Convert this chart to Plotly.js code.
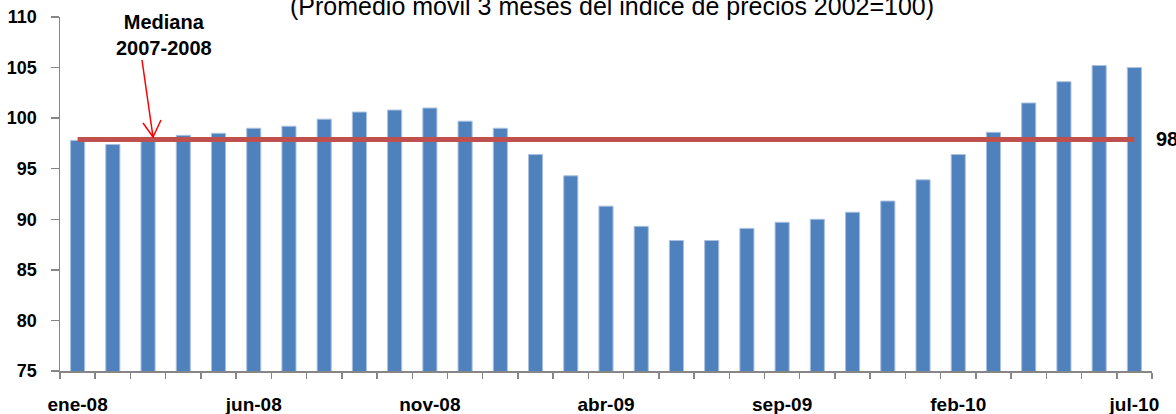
<!DOCTYPE html>
<html>
<head>
<meta charset="utf-8">
<script src="https://cdn.plot.ly/plotly-3.0.1.min.js"></script>
<style>
  html, body { margin: 0; padding: 0; background: #fff; }
  #chart { width: 1176px; height: 414px; }
</style>
</head>
<body>
<div id="chart"></div>
<script>
// categories (monthly, ene-08 .. jul-10)
const months = [
  'ene-08', 'feb-08', 'mar-08', 'abr-08', 'may-08', 'jun-08', 'jul-08', 'ago-08', 'sep-08', 'oct-08', 'nov-08', 'dic-08',
  'ene-09', 'feb-09', 'mar-09', 'abr-09', 'may-09', 'jun-09', 'jul-09', 'ago-09', 'sep-09', 'oct-09', 'nov-09', 'dic-09',
  'ene-10', 'feb-10', 'mar-10', 'abr-10', 'may-10', 'jun-10', 'jul-10'
];

// price index, 3-month moving average (2002=100)
const indexValues = [
  97.8, 97.4, 98.1, 98.3, 98.5, 99.0, 99.2, 99.9, 100.6, 100.8, 101.0, 99.7,
  99.0, 96.4, 94.3, 91.3, 89.3, 87.9, 87.9, 89.1, 89.7, 90.0, 90.7, 91.8,
  93.9, 96.4, 98.6, 101.5, 103.6, 105.2, 105.0
];

// median 2007-2008 reference line
const medianX = ['ene-08', 'jul-10'];
const medianY = [97.9, 97.9];
const medianLabel = '98';

// only every fifth month is labelled
const tickText = months.map((m, i) => (i % 5 === 0 ? m : ''));

const FONT = 'Liberation Sans, Arial, sans-serif';
const AXIS_GREY = '#868686';

// plot area in pixels: x 60..1152, y 17..371
const plotL = 60, plotR = 24, plotT = 17, plotB = 43;
const plotW = 1176 - plotL - plotR;
const plotH = 414 - plotT - plotB;
const px = (x) => (x - plotL) / plotW;            // pixel x -> paper
const py = (y) => (414 - plotB - y) / plotH;      // pixel y -> paper

const bars = {
  type: 'bar',
  x: months,
  y: indexValues,
  marker: {
    color: '#4F81BD',
    line: { color: '#A9C1E0', width: 1 }
  },
  hoverinfo: 'x+y',
  showlegend: false
};

const median = {
  type: 'scatter',
  mode: 'lines',
  x: medianX,
  y: medianY,
  line: { color: '#C0504D', width: 5 },
  showlegend: false,
  hoverinfo: 'skip'
};

// open "V" arrow pointing at the median line
const arrowTail = [142, 60], arrowTip = [153, 137];
const headL = [143, 123], headR = [161, 120];

const layout = {
  width: 1176,
  height: 414,
  margin: { l: plotL, r: plotR, t: plotT, b: plotB, pad: 0 },
  paper_bgcolor: '#ffffff',
  plot_bgcolor: '#ffffff',
  bargap: 0.6,
  font: { family: FONT, color: '#000000' },
  xaxis: {
    type: 'category',
    tickmode: 'array',
    tickvals: months,
    ticktext: tickText,
    tickangle: 0,
    tickson: 'boundaries',
    ticks: 'outside',
    ticklen: 6,
    tickwidth: 1.5,
    tickcolor: AXIS_GREY,
    showline: true,
    linecolor: AXIS_GREY,
    linewidth: 1.5,
    showgrid: false,
    zeroline: false,
    ticklabelstandoff: 16,
    tickfont: { family: FONT, size: 19, weight: 'bold', color: '#000' },
    range: [-0.5, months.length - 0.5]
  },
  yaxis: {
    range: [75, 110],
    dtick: 5,
    tick0: 75,
    ticks: 'outside',
    ticklen: 8,
    tickwidth: 1.5,
    tickcolor: AXIS_GREY,
    showline: true,
    linecolor: AXIS_GREY,
    linewidth: 1.5,
    showgrid: false,
    zeroline: false,
    ticklabelstandoff: 10,
    tickfont: { family: FONT, size: 18, weight: 'bold', color: '#000' }
  },
  annotations: [
    {
      text: '(Promedio movil 3 meses del indice de precios 2002=100)',
      xref: 'paper', yref: 'paper',
      x: px(612), y: py(6),
      xanchor: 'center', yanchor: 'middle',
      showarrow: false,
      font: { family: FONT, size: 25, color: '#000' }
    },
    {
      text: 'Mediana<br>2007-2008',
      xref: 'paper', yref: 'paper',
      x: px(164), y: py(35),
      xanchor: 'center', yanchor: 'middle',
      showarrow: false,
      font: { family: FONT, size: 20, weight: 'bold', color: '#000' }
    },
    {
      text: medianLabel,
      xref: 'paper', yref: 'y',
      x: px(1154), y: medianY[0],
      xanchor: 'left', yanchor: 'middle',
      showarrow: false,
      font: { family: FONT, size: 20, weight: 'bold', color: '#000' }
    }
  ],
  shapes: [
    {
      type: 'path',
      xref: 'paper', yref: 'paper',
      path: `M ${px(arrowTail[0])},${py(arrowTail[1])} L ${px(arrowTip[0])},${py(arrowTip[1])}` +
            ` M ${px(headL[0])},${py(headL[1])} L ${px(arrowTip[0])},${py(arrowTip[1])} L ${px(headR[0])},${py(headR[1])}`,
      line: { color: '#FF0000', width: 1.5 }
    }
  ]
};

Plotly.newPlot('chart', [bars, median], layout, { displayModeBar: false, staticPlot: true });
</script>
</body>
</html>
